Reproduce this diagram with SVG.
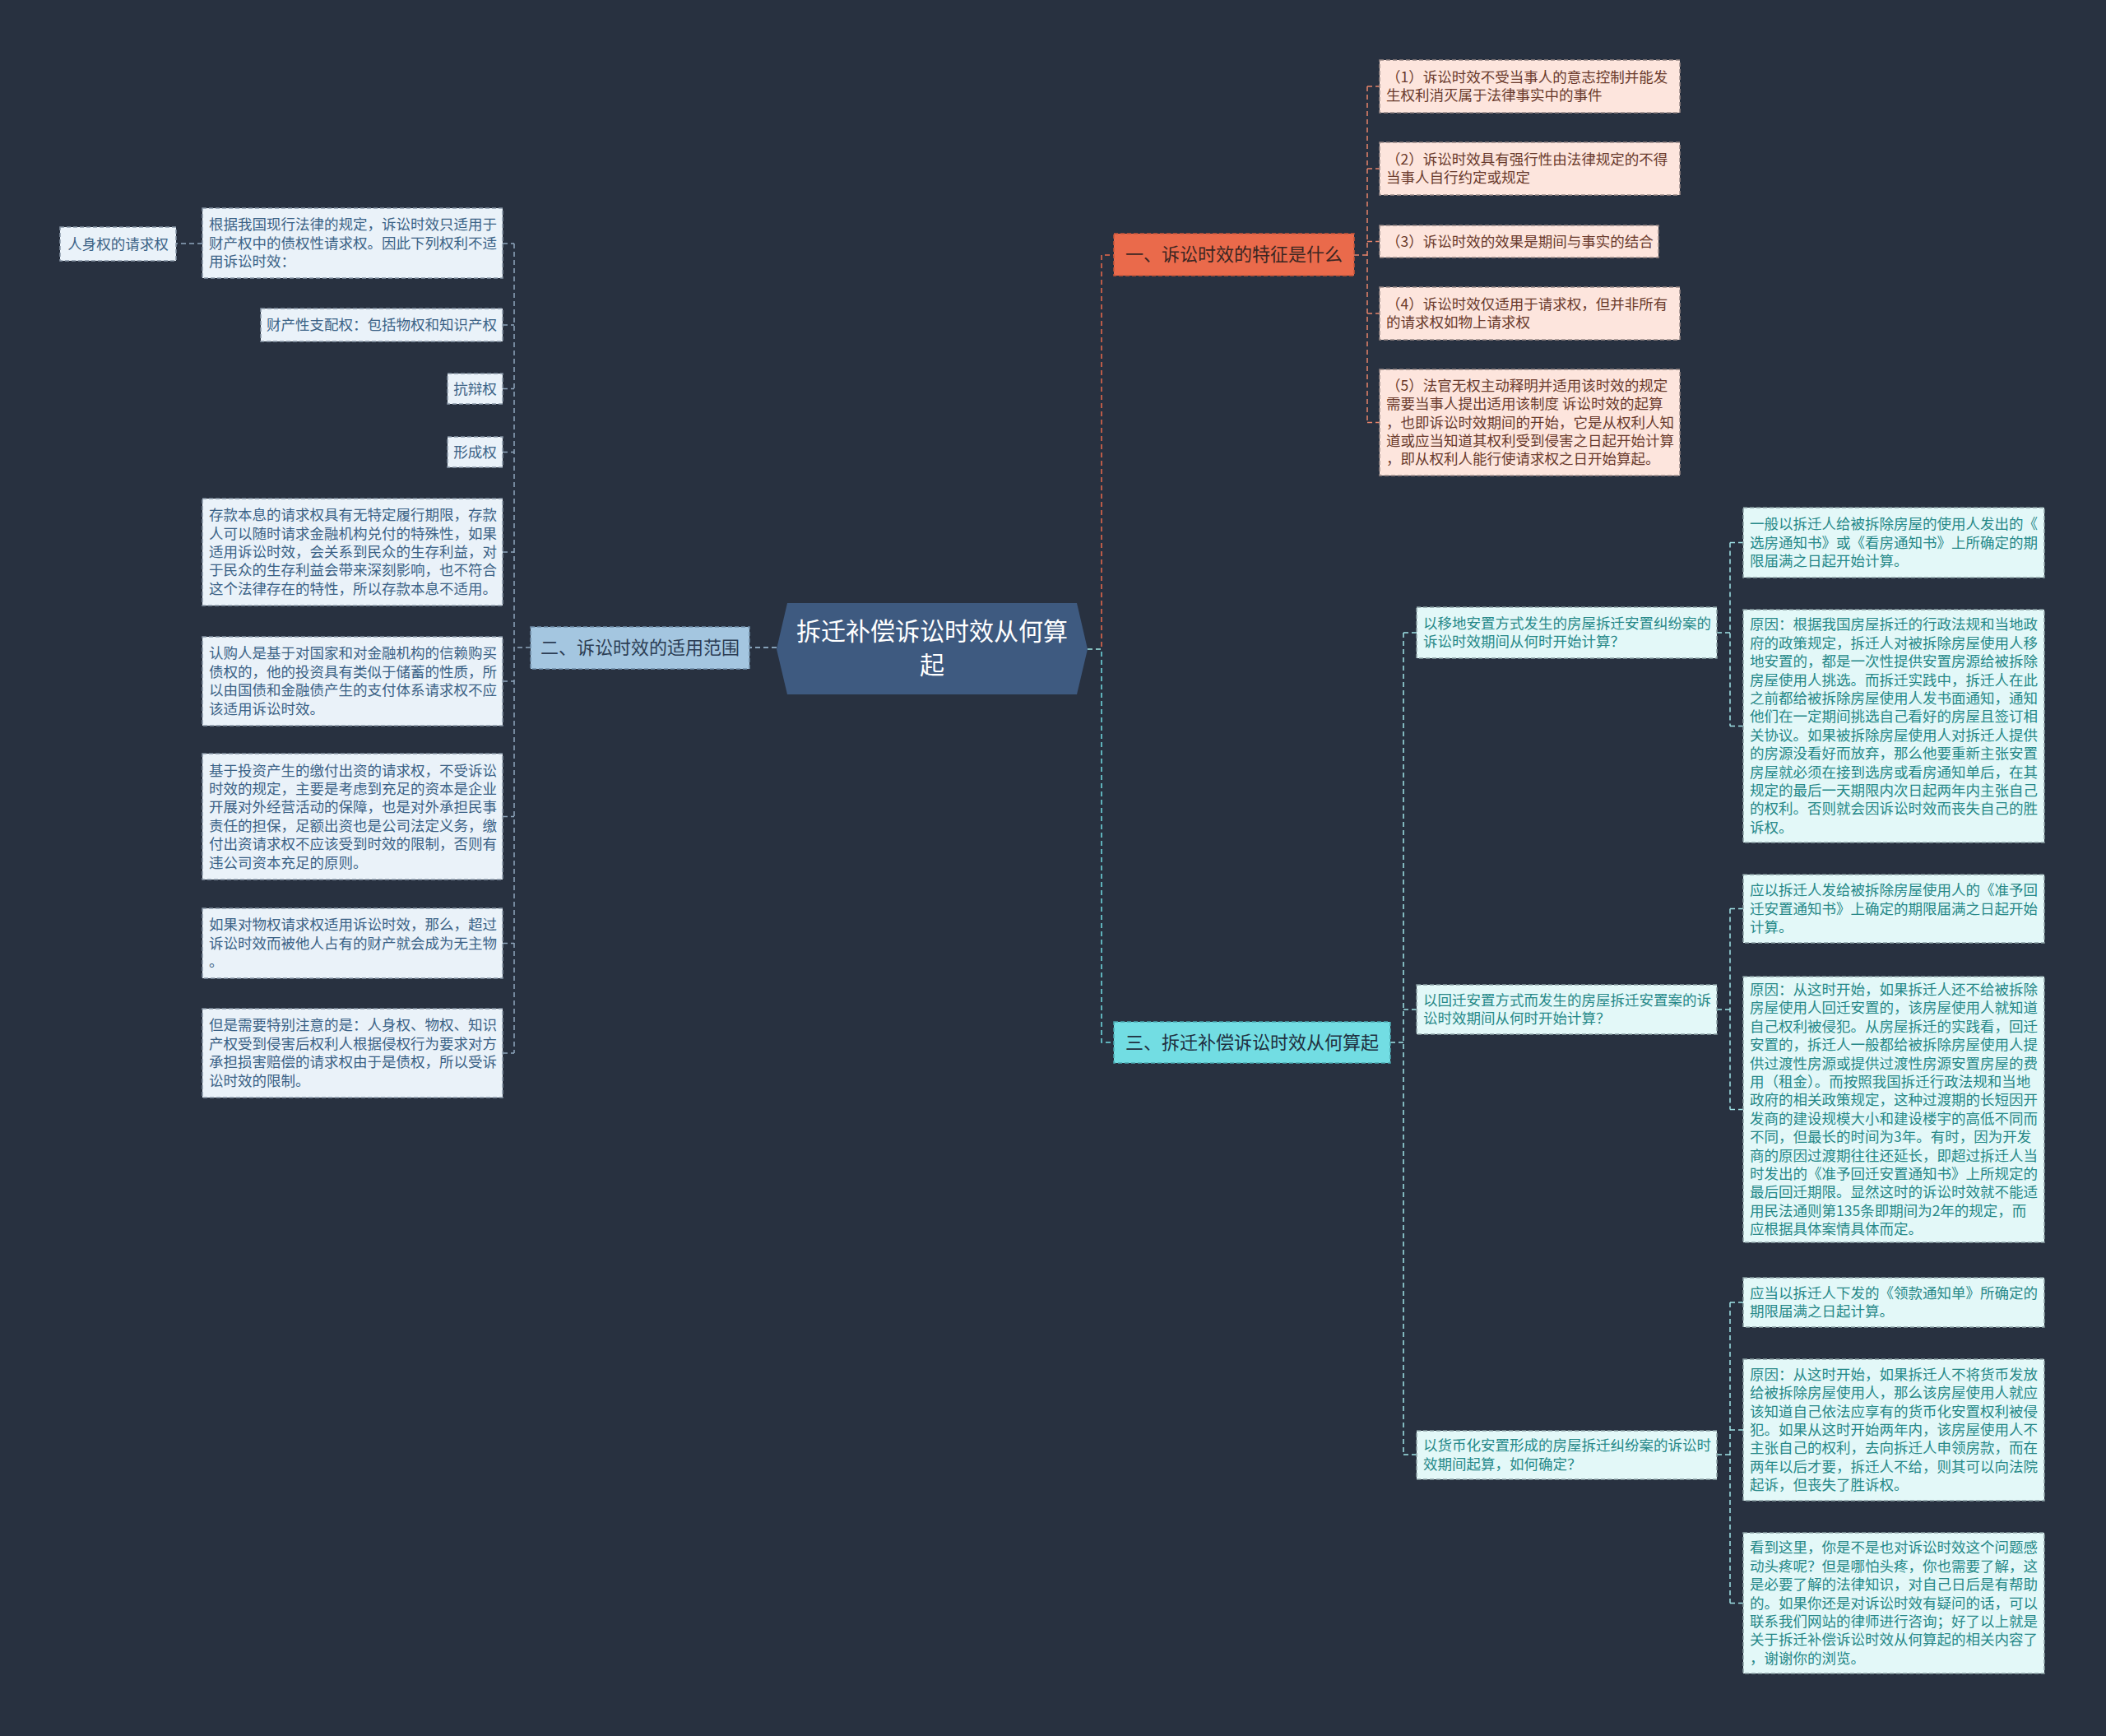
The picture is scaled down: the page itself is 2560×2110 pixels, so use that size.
<svg xmlns="http://www.w3.org/2000/svg" width="2560" height="2110" viewBox="0 0 2560 2110">
<style>
text{font-family:"Noto Sans CJK SC","Noto Sans",sans-serif;}
.bg{fill:#283140;}
.center{fill:#3e5a80;}
.ct{fill:#ffffff;font-size:30px;text-anchor:middle;}
.b1{fill:#ea6a4b;stroke:#c8553a;stroke-width:1.5;stroke-dasharray:5 3;}
.b2{fill:#a4c6e0;stroke:#6f8da8;stroke-width:1.5;stroke-dasharray:5 3;}
.b3{fill:#72dde3;stroke:#4aa8b0;stroke-width:1.5;stroke-dasharray:5 3;}
.bt{font-size:22px;text-anchor:middle;}
.bt1{fill:#3a2622;}
.bt2{fill:#2c3e55;}
.bt3{fill:#1f3040;}
.n1{fill:#fde5dd;stroke:#9a8a88;stroke-width:1.5;stroke-dasharray:5 3;}
.n2{fill:#eaf2f9;stroke:#8896a6;stroke-width:1.5;stroke-dasharray:5 3;}
.n3{fill:#e3f8f8;stroke:#8aa0a4;stroke-width:1.5;stroke-dasharray:5 3;}
.t{font-size:17.5px;}
.t1{fill:#6a3a2c;}
.t2{fill:#3b6286;}
.t3{fill:#268888;}
.mid{text-anchor:middle;}
.l1{fill:none;stroke:#ea6a4b;stroke-width:1.5;stroke-dasharray:6 4;}
.l2{fill:none;stroke:#a4c6e0;stroke-width:1.5;stroke-dasharray:6 4;}
.l3{fill:none;stroke:#72dde3;stroke-width:1.5;stroke-dasharray:6 4;}
.l1c{fill:none;stroke:#e8846a;stroke-width:1.5;stroke-dasharray:6 4;}
.l2c{fill:none;stroke:#8fa6bd;stroke-width:1.5;stroke-dasharray:6 4;}
.l3c{fill:none;stroke:#9fe3e6;stroke-width:1.5;stroke-dasharray:6 4;}
</style>
<rect class="bg" x="0" y="0" width="2560" height="2110"/>

<g id="connectors">
  <path class="l1" d="M1322 789 H1339 V310 H1354"/>
  <path class="l3" d="M1322 789 H1339 V1267 H1354"/>
  <path class="l2" d="M944 787 H911"/>
  <path class="l1c" d="M1646 310 H1662 M1662 105 V513.5 M1662 105 H1677 M1662 205 H1677 M1662 293.5 H1677 M1662 381 H1677 M1662 513.5 H1677"/>
  <path class="l2c" d="M645 787 H625 M625 296 V1280 M611 296 H625 M611 395 H625 M611 472.5 H625 M611 549.5 H625 M611 671 H625 M611 828 H625 M611 992.5 H625 M611 1146.5 H625 M611 1280 H625"/>
  <path class="l2c" d="M246 296 H214"/>
  <path class="l3c" d="M1690 1267 H1706 M1706 769 V1768 M1706 769 H1722 M1706 1227 H1722 M1706 1768 H1722"/>
  <path class="l3c" d="M2087 769 H2103 M2103 659.5 V882.5 M2103 659.5 H2119 M2103 882.5 H2119"/>
  <path class="l3c" d="M2087 1227 H2103 M2103 1104.5 V1348.5 M2103 1104.5 H2119 M2103 1348.5 H2119"/>
  <path class="l3c" d="M2087 1768 H2103 M2103 1583 V1948.5 M2103 1583 H2119 M2103 1738 H2119 M2103 1948.5 H2119"/>
</g>

<g id="root">
  <polygon class="center" points="944,789 957,733 1309,733 1322,789 1309,844 957,844"/>
  <text class="ct"><tspan x="1133" y="777.5">拆迁补偿诉讼时效从何算</tspan><tspan x="1133" y="818.5">起</tspan></text>
</g>

<g id="branch1">
  <rect class="b1" x="1354" y="284" width="292" height="51"/>
  <text class="bt bt1" x="1500" y="317">一、诉讼时效的特征是什么</text>
</g>
<g id="branch2">
  <rect class="b2" x="645" y="762" width="266" height="51"/>
  <text class="bt bt2" x="778" y="795">二、诉讼时效的适用范围</text>
</g>
<g id="branch3">
  <rect class="b3" x="1354" y="1242" width="336" height="50"/>
  <text class="bt bt3" x="1522" y="1275">三、拆迁补偿诉讼时效从何算起</text>
</g>

<g id="b1c1">
  <rect class="n1" x="1677" y="73" width="365" height="64"/>
  <text class="t t1"><tspan x="1685" y="99.8">（1）诉讼时效不受当事人的意志控制并能发</tspan><tspan x="1685" y="122.2">生权利消灭属于法律事实中的事件</tspan></text>
</g>
<g id="b1c2">
  <rect class="n1" x="1677" y="173" width="365" height="64"/>
  <text class="t t1"><tspan x="1685" y="199.8">（2）诉讼时效具有强行性由法律规定的不得</tspan><tspan x="1685" y="222.2">当事人自行约定或规定</tspan></text>
</g>
<g id="b1c3">
  <rect class="n1" x="1677" y="274" width="339" height="39"/>
  <text class="t t1" x="1685" y="299.5">（3）诉讼时效的效果是期间与事实的结合</text>
</g>
<g id="b1c4">
  <rect class="n1" x="1677" y="349" width="365" height="64"/>
  <text class="t t1"><tspan x="1685" y="375.8">（4）诉讼时效仅适用于请求权，但并非所有</tspan><tspan x="1685" y="398.2">的请求权如物上请求权</tspan></text>
</g>
<g id="b1c5">
  <rect class="n1" x="1677" y="449" width="365" height="129"/>
  <text class="t t1"><tspan x="1685" y="474.7">（5）法官无权主动释明并适用该时效的规定</tspan><tspan x="1685" y="497.1">需要当事人提出适用该制度 诉讼时效的起算</tspan><tspan x="1685" y="519.5">，也即诉讼时效期间的开始，它是从权利人知</tspan><tspan x="1685" y="541.9">道或应当知道其权利受到侵害之日起开始计算</tspan><tspan x="1685" y="564.3">，即从权利人能行使请求权之日开始算起。</tspan></text>
</g>

<g id="b2c0">
  <rect class="n2" x="246" y="253" width="365" height="85"/>
  <text class="t t2"><tspan x="254" y="279.1">根据我国现行法律的规定，诉讼时效只适用于</tspan><tspan x="254" y="301.5">财产权中的债权性请求权。因此下列权利不适</tspan><tspan x="254" y="323.9">用诉讼时效：</tspan></text>
</g>
<g id="b2c0a">
  <rect class="n2" x="73" y="276" width="141" height="41"/>
  <text class="t t2 mid" x="143.5" y="302.5">人身权的请求权</text>
</g>
<g id="b2c1">
  <rect class="n2" x="317" y="375" width="294" height="40"/>
  <text class="t t2 mid" x="464" y="401">财产性支配权：包括物权和知识产权</text>
</g>
<g id="b2c2">
  <rect class="n2" x="544" y="454" width="67" height="37"/>
  <text class="t t2 mid" x="577.5" y="478.5">抗辩权</text>
</g>
<g id="b2c3">
  <rect class="n2" x="544" y="531" width="67" height="37"/>
  <text class="t t2 mid" x="577.5" y="555.5">形成权</text>
</g>
<g id="b2c4">
  <rect class="n2" x="246" y="606" width="365" height="130"/>
  <text class="t t2"><tspan x="254" y="632.2">存款本息的请求权具有无特定履行期限，存款</tspan><tspan x="254" y="654.6">人可以随时请求金融机构兑付的特殊性，如果</tspan><tspan x="254" y="677">适用诉讼时效，会关系到民众的生存利益，对</tspan><tspan x="254" y="699.4">于民众的生存利益会带来深刻影响，也不符合</tspan><tspan x="254" y="721.8">这个法律存在的特性，所以存款本息不适用。</tspan></text>
</g>
<g id="b2c5">
  <rect class="n2" x="246" y="774" width="365" height="108"/>
  <text class="t t2"><tspan x="254" y="800.4">认购人是基于对国家和对金融机构的信赖购买</tspan><tspan x="254" y="822.8">债权的，他的投资具有类似于储蓄的性质，所</tspan><tspan x="254" y="845.2">以由国债和金融债产生的支付体系请求权不应</tspan><tspan x="254" y="867.6">该适用诉讼时效。</tspan></text>
</g>
<g id="b2c6">
  <rect class="n2" x="246" y="916" width="365" height="153"/>
  <text class="t t2"><tspan x="254" y="942.5">基于投资产生的缴付出资的请求权，不受诉讼</tspan><tspan x="254" y="964.9">时效的规定，主要是考虑到充足的资本是企业</tspan><tspan x="254" y="987.3">开展对外经营活动的保障，也是对外承担民事</tspan><tspan x="254" y="1009.7">责任的担保，足额出资也是公司法定义务，缴</tspan><tspan x="254" y="1032.1">付出资请求权不应该受到时效的限制，否则有</tspan><tspan x="254" y="1054.5">违公司资本充足的原则。</tspan></text>
</g>
<g id="b2c7">
  <rect class="n2" x="246" y="1104" width="365" height="85"/>
  <text class="t t2"><tspan x="254" y="1130.1">如果对物权请求权适用诉讼时效，那么，超过</tspan><tspan x="254" y="1152.5">诉讼时效而被他人占有的财产就会成为无主物</tspan><tspan x="254" y="1174.9">。</tspan></text>
</g>
<g id="b2c8">
  <rect class="n2" x="246" y="1226" width="365" height="108"/>
  <text class="t t2"><tspan x="254" y="1252.4">但是需要特别注意的是：人身权、物权、知识</tspan><tspan x="254" y="1274.8">产权受到侵害后权利人根据侵权行为要求对方</tspan><tspan x="254" y="1297.2">承担损害赔偿的请求权由于是债权，所以受诉</tspan><tspan x="254" y="1319.6">讼时效的限制。</tspan></text>
</g>

<g id="q1">
  <rect class="n3" x="1722" y="738" width="365" height="62"/>
  <text class="t t3"><tspan x="1730" y="763.8">以移地安置方式发生的房屋拆迁安置纠纷案的</tspan><tspan x="1730" y="786.2">诉讼时效期间从何时开始计算？</tspan></text>
</g>
<g id="q2">
  <rect class="n3" x="1722" y="1197" width="365" height="60"/>
  <text class="t t3"><tspan x="1730" y="1221.8">以回迁安置方式而发生的房屋拆迁安置案的诉</tspan><tspan x="1730" y="1244.2">讼时效期间从何时开始计算？</tspan></text>
</g>
<g id="q3">
  <rect class="n3" x="1722" y="1739" width="365" height="59"/>
  <text class="t t3"><tspan x="1730" y="1763.3">以货币化安置形成的房屋拆迁纠纷案的诉讼时</tspan><tspan x="1730" y="1785.7">效期间起算，如何确定？</tspan></text>
</g>

<g id="a1a">
  <rect class="n3" x="2119" y="617" width="366" height="85"/>
  <text class="t t3"><tspan x="2127" y="643.1">一般以拆迁人给被拆除房屋的使用人发出的《</tspan><tspan x="2127" y="665.5">选房通知书》或《看房通知书》上所确定的期</tspan><tspan x="2127" y="687.9">限届满之日起开始计算。</tspan></text>
</g>
<g id="a1b">
  <rect class="n3" x="2119" y="741" width="366" height="283"/>
  <text class="t t3"><tspan x="2127" y="765.3">原因：根据我国房屋拆迁的行政法规和当地政</tspan><tspan x="2127" y="787.7">府的政策规定，拆迁人对被拆除房屋使用人移</tspan><tspan x="2127" y="810.1">地安置的，都是一次性提供安置房源给被拆除</tspan><tspan x="2127" y="832.5">房屋使用人挑选。而拆迁实践中，拆迁人在此</tspan><tspan x="2127" y="854.9">之前都给被拆除房屋使用人发书面通知，通知</tspan><tspan x="2127" y="877.3">他们在一定期间挑选自己看好的房屋且签订相</tspan><tspan x="2127" y="899.7">关协议。如果被拆除房屋使用人对拆迁人提供</tspan><tspan x="2127" y="922.1">的房源没看好而放弃，那么他要重新主张安置</tspan><tspan x="2127" y="944.5">房屋就必须在接到选房或看房通知单后，在其</tspan><tspan x="2127" y="966.9">规定的最后一天期限内次日起两年内主张自己</tspan><tspan x="2127" y="989.3">的权利。否则就会因诉讼时效而丧失自己的胜</tspan><tspan x="2127" y="1011.7">诉权。</tspan></text>
</g>
<g id="a2a">
  <rect class="n3" x="2119" y="1063" width="366" height="83"/>
  <text class="t t3"><tspan x="2127" y="1088.1">应以拆迁人发给被拆除房屋使用人的《准予回</tspan><tspan x="2127" y="1110.5">迁安置通知书》上确定的期限届满之日起开始</tspan><tspan x="2127" y="1132.9">计算。</tspan></text>
</g>
<g id="a2b">
  <rect class="n3" x="2119" y="1187" width="366" height="323"/>
  <text class="t t3"><tspan x="2127" y="1208.9">原因：从这时开始，如果拆迁人还不给被拆除</tspan><tspan x="2127" y="1231.3">房屋使用人回迁安置的，该房屋使用人就知道</tspan><tspan x="2127" y="1253.7">自己权利被侵犯。从房屋拆迁的实践看，回迁</tspan><tspan x="2127" y="1276.1">安置的，拆迁人一般都给被拆除房屋使用人提</tspan><tspan x="2127" y="1298.5">供过渡性房源或提供过渡性房源安置房屋的费</tspan><tspan x="2127" y="1320.9">用（租金）。而按照我国拆迁行政法规和当地</tspan><tspan x="2127" y="1343.3">政府的相关政策规定，这种过渡期的长短因开</tspan><tspan x="2127" y="1365.7">发商的建设规模大小和建设楼宇的高低不同而</tspan><tspan x="2127" y="1388.1">不同，但最长的时间为3年。有时，因为开发</tspan><tspan x="2127" y="1410.5">商的原因过渡期往往还延长，即超过拆迁人当</tspan><tspan x="2127" y="1432.9">时发出的《准予回迁安置通知书》上所规定的</tspan><tspan x="2127" y="1455.3">最后回迁期限。显然这时的诉讼时效就不能适</tspan><tspan x="2127" y="1477.7">用民法通则第135条即期间为2年的规定，而</tspan><tspan x="2127" y="1500.1">应根据具体案情具体而定。</tspan></text>
</g>
<g id="a3a">
  <rect class="n3" x="2119" y="1553" width="366" height="60"/>
  <text class="t t3"><tspan x="2127" y="1577.8">应当以拆迁人下发的《领款通知单》所确定的</tspan><tspan x="2127" y="1600.2">期限届满之日起计算。</tspan></text>
</g>
<g id="a3b">
  <rect class="n3" x="2119" y="1652" width="366" height="172"/>
  <text class="t t3"><tspan x="2127" y="1676.8">原因：从这时开始，如果拆迁人不将货币发放</tspan><tspan x="2127" y="1699.2">给被拆除房屋使用人，那么该房屋使用人就应</tspan><tspan x="2127" y="1721.6">该知道自己依法应享有的货币化安置权利被侵</tspan><tspan x="2127" y="1744">犯。如果从这时开始两年内，该房屋使用人不</tspan><tspan x="2127" y="1766.4">主张自己的权利，去向拆迁人申领房款，而在</tspan><tspan x="2127" y="1788.8">两年以后才要，拆迁人不给，则其可以向法院</tspan><tspan x="2127" y="1811.2">起诉，但丧失了胜诉权。</tspan></text>
</g>
<g id="a3c">
  <rect class="n3" x="2119" y="1863" width="366" height="171"/>
  <text class="t t3"><tspan x="2127" y="1887.3">看到这里，你是不是也对诉讼时效这个问题感</tspan><tspan x="2127" y="1909.7">动头疼呢？但是哪怕头疼，你也需要了解，这</tspan><tspan x="2127" y="1932.1">是必要了解的法律知识，对自己日后是有帮助</tspan><tspan x="2127" y="1954.5">的。如果你还是对诉讼时效有疑问的话，可以</tspan><tspan x="2127" y="1976.9">联系我们网站的律师进行咨询；好了以上就是</tspan><tspan x="2127" y="1999.3">关于拆迁补偿诉讼时效从何算起的相关内容了</tspan><tspan x="2127" y="2021.7">，谢谢你的浏览。</tspan></text>
</g>
</svg>
